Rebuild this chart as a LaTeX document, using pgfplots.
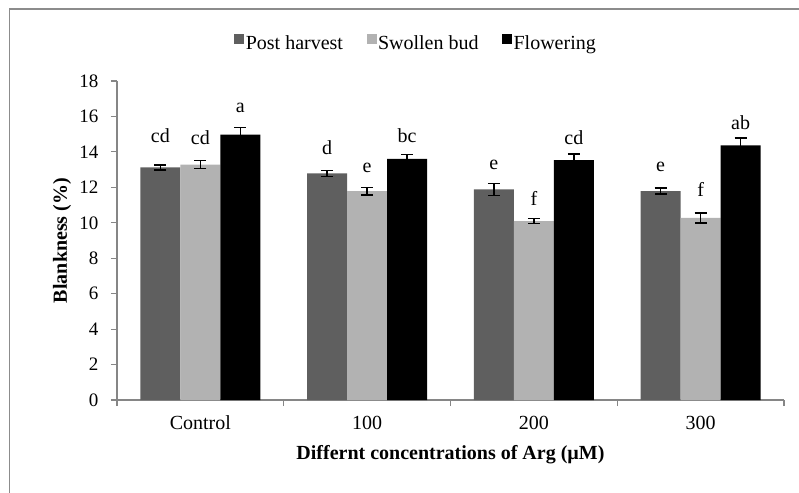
\documentclass[border=0pt]{standalone}
\usepackage{fontspec}
\setmainfont{Liberation Serif}
\usepackage{pgfplots}
\usepackage{pgfplotstable}
\pgfplotsset{compat=1.18}
\definecolor{darkbar}{HTML}{5F5F5F}
\definecolor{lightbar}{HTML}{B2B2B2}
\definecolor{framegray}{HTML}{8C8C8C}
\definecolor{axisgray}{HTML}{868686}

\pgfplotstableread{
x y err lab lift
0 13.13 0.14 cd 24.6
1 12.79 0.17 d 19
2 11.89 0.34 e 19.3
3 11.78 0.17 e 19.3
}\tabA
\pgfplotstableread{
x y err lab lift
0 13.28 0.22 cd 20.4
1 11.78 0.21 e 19
2 10.10 0.15 f 15.7
3 10.27 0.29 f 21
}\tabB
\pgfplotstableread{
x y err lab lift
0 14.97 0.40 a 22
1 13.60 0.26 bc 16.3
2 13.53 0.36 cd 15.3
3 14.37 0.40 ab 16.3
}\tabC

\pgfplotsset{
  mybars/.style={draw=none, nodes near coords, point meta=explicit symbolic,
    visualization depends on={\thisrow{lift}\as\lift},
    every node near coord/.append style={anchor=base, yshift=\lift, font=\fontsize{20}{24}\selectfont, text=black},
    error bars/y dir=both, error bars/y explicit,
    error bars/error bar style={black, line width=1.5pt},
    error bars/error mark options={rotate=90, mark size=6pt, black, line width=1.5pt}},
}

\begin{document}
\begin{tikzpicture}[x=1pt,y=1pt]
\begin{axis}[
  name=ax,
  scale only axis, width=667pt, height=319pt,
  xmin=-0.5, xmax=3.5, ymin=0, ymax=18,
  ytick={0,2,...,18},
  xtick={0,1,2,3}, xticklabels={Control,100,200,300},
  minor xtick={-0.5,0.5,1.5,2.5,3.5},
  major x tick style={draw=none},
  axis lines*=left,
  axis line style={axisgray, line width=1.2pt},
  every tick/.style={axisgray, line width=1.2pt},
  tick align=outside,
  major tick length=6pt, minor tick length=6pt,
  ybar=0pt, bar width=40pt,
  /pgf/number format/assume math mode=true,
  xticklabel style={font=\fontsize{20}{24}\selectfont, anchor=base, yshift=-23pt},
  yticklabel style={font=\fontsize{19}{23}\selectfont, xshift=-9pt},
  xlabel={\textbf{Differnt concentrations of Arg (µM)}},
  ylabel={\textbf{Blankness (\%)}},
  xlabel style={font=\fontsize{20}{24}\selectfont, at={(axis description cs:0.5,-0.185)}, anchor=base},
  ylabel style={font=\fontsize{20}{24}\selectfont, at={(axis description cs:-0.0825,0.5)}, anchor=center},
  legend style={at={(0.448,1.119)}, anchor=center, draw=none, legend columns=3,
    font=\fontsize{20}{24}\selectfont,
    nodes={inner xsep=1.5pt},
    /tikz/every even column/.append style={column sep=22pt}},
  legend image code/.code={\path[#1,draw=none] (0pt,-1pt) rectangle (10pt,9pt);},
]
\addplot[fill=darkbar, mybars] table[x=x, y=y, y error=err, meta=lab]{\tabA};
\addplot[fill=lightbar, mybars] table[x=x, y=y, y error=err, meta=lab]{\tabB};
\addplot[fill=black, mybars] table[x=x, y=y, y error=err, meta=lab]{\tabC};
\legend{Post harvest, Swollen bud, Flowering}
\end{axis}
\pgfresetboundingbox
\path[use as bounding box] ([shift={(-117pt,-92pt)}]ax.south west) rectangle ([shift={(682pt,400pt)}]ax.south west);
\draw[framegray, line width=1.5pt] ([shift={(-107.5pt,-120pt)}]ax.south west) -- ([shift={(-107.5pt,391pt)}]ax.south west) -- ([shift={(720pt,391pt)}]ax.south west);
\end{tikzpicture}
\end{document}
